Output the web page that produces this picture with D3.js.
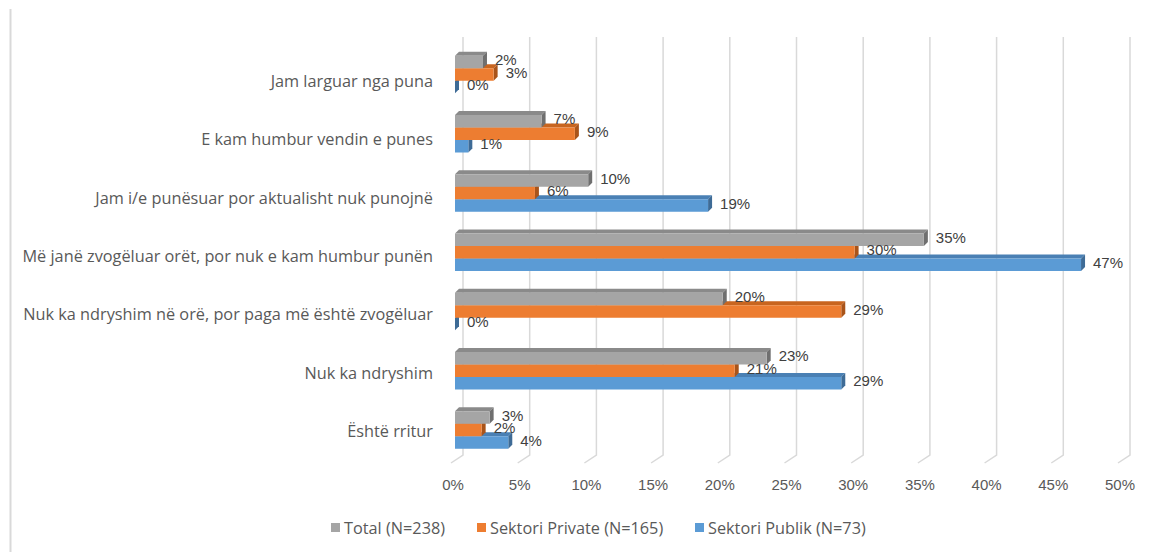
<!DOCTYPE html>
<html>
<head>
<meta charset="utf-8">
<script src="https://cdn.jsdelivr.net/npm/d3@7"></script>
<style>
  body { margin: 0; background: #fff; }
  text { font-family: "Liberation Sans", Arial, sans-serif; }
  .cat, .leg { font-family: "Open Sans", sans-serif; }
</style>
</head>
<body>
<div class="chart"></div>
<script>
var categories = [
  "Jam larguar nga puna",
  "E kam humbur vendin e punes",
  "Jam i/e punësuar por aktualisht nuk punojnë",
  "Më janë zvogëluar orët, por nuk e kam humbur punën",
  "Nuk ka ndryshim në orë, por paga më është zvogëluar",
  "Nuk ka ndryshim",
  "Është rritur"
];
var seriesNames = ["Total (N=238)", "Sektori Private (N=165)", "Sektori Publik (N=73)"];
var total   = [2.1, 6.5, 10, 35.2, 20.1, 23.4, 2.6];
var privat  = [2.9, 9, 6, 30, 29, 21, 2];
var publik  = [0, 1, 19, 47, 0, 29, 4];
var ticks = [0, 5, 10, 15, 20, 25, 30, 35, 40, 45, 50];

var colors = [
  {front: "#a5a5a5", top: "#8a8a8a", side: "#6f6f6f"},
  {front: "#ed7d31", top: "#c8651f", side: "#a9541a"},
  {front: "#5b9bd5", top: "#4a80b4", side: "#3e6b96"}
];

var width = 1168, height = 552;
var svg = d3.select(".chart").append("svg")
  .attr("width", width)
  .attr("height", height);

// left border of chart area
svg.append("line")
  .attr("x1", 10.5).attr("x2", 10.5)
  .attr("y1", 9).attr("y2", height)
  .style("stroke", "#d9d9d9").style("stroke-width", 2);

var x = d3.scaleLinear().domain([0, 50]).range([455, 1121]);     // front face
var xBack = d3.scaleLinear().domain([0, 50]).range([463, 1130]); // back wall
var yGroup = d3.scalePoint().domain(d3.range(7)).range([74.5, 430]);
var yLabel = d3.scalePoint().domain(d3.range(7)).range([82, 432]);

var depth = 4, barH = 12.5;

// gridlines (back wall + floor slant)
var grid = svg.append("g");
grid.selectAll("path").data(ticks).enter().append("path")
  .attr("d", d => "M" + xBack(d) + ",37 L" + xBack(d) + ",455 L" + (xBack(d) - 12) + ",463")
  .style("fill", "none").style("stroke", "#d9d9d9").style("stroke-width", 1.5);

grid.selectAll("text").data(ticks).enter().append("text")
  .attr("x", d => xBack(d) - 10)
  .attr("y", 490)
  .attr("text-anchor", "middle")
  .style("font-size", "15px")
  .style("fill", "#595959")
  .text(d => d + "%");

// category labels
svg.append("g").selectAll("text").data(categories).enter().append("text")
  .attr("class", "cat")
  .attr("x", 433)
  .attr("y", (d, i) => yLabel(i) + 5)
  .attr("text-anchor", "end")
  .style("font-size", "16.3px")
  .style("fill", "#595959")
  .text(d => d);

// bars: draw lower series first so upper ones sit on top
var series = [total, privat, publik];
var bars = svg.append("g");
[2, 1, 0].forEach(function(s) {
  var c = colors[s];
  series[s].forEach(function(v, i) {
    var y0 = yGroup(i) - 1.5 * barH + s * barH;
    var x0 = x(0), x1 = x(v);
    var g = bars.append("g");
    if (v > 0) {
      g.append("path")
        .attr("d", "M" + x0 + "," + y0 + "L" + x1 + "," + y0 + "L" + (x1 + depth) + "," + (y0 - depth) +
          "L" + (x0 + depth) + "," + (y0 - depth) + "Z")
        .style("fill", c.top);
    }
    g.append("path")
      .attr("d", "M" + x1 + "," + y0 + "L" + (x1 + depth) + "," + (y0 - depth) + "L" + (x1 + depth) + "," + (y0 + barH - depth) +
        "L" + x1 + "," + (y0 + barH) + "Z")
      .style("fill", c.side);
    if (v > 0) {
      g.append("rect")
        .attr("x", x0).attr("y", y0)
        .attr("width", x1 - x0).attr("height", barH)
        .style("fill", c.front);
    }
  });
});

// data labels
var labels = svg.append("g");
series.forEach(function(vals, s) {
  vals.forEach(function(v, i) {
    var y0 = yGroup(i) - 1.5 * barH + s * barH;
    labels.append("text")
      .attr("x", x(v) + depth + 8)
      .attr("y", y0 + barH / 2 + 3)
      .style("font-size", "15px")
      .style("fill", "#404040")
      .text(Math.round(v) + "%");
  });
});

// legend
var legendX = [331, 477, 695];
var legend = svg.append("g").selectAll("g").data(seriesNames).enter().append("g")
  .attr("transform", (d, i) => "translate(" + legendX[i] + ",528)");
legend.append("rect")
  .attr("x", 0).attr("y", -5).attr("width", 9).attr("height", 9)
  .style("fill", (d, i) => colors[i].front);
legend.append("text")
  .attr("class", "leg")
  .attr("x", 13).attr("y", 5.5)
  .style("font-size", "16.3px")
  .style("fill", "#595959")
  .text(d => d);
</script>
</body>
</html>
